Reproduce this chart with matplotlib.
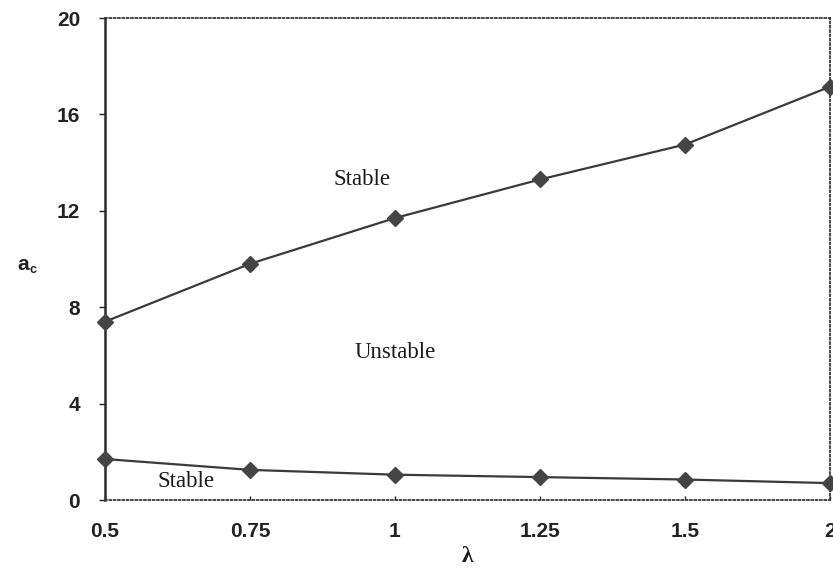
import matplotlib
matplotlib.use("Agg")
from matplotlib import pyplot as plt
import numpy as np

# lambda values (drawn as evenly spaced categories)
lam_labels = ['0.5', '0.75', '1', '1.25', '1.5', '2']
# critical a_c : upper and lower stability boundaries
ac_upper = [7.4, 9.8, 11.7, 13.3, 14.75, 17.15]
ac_lower = [1.7, 1.25, 1.05, 0.95, 0.85, 0.7]
y_ticks = [0, 4, 8, 12, 16, 20]

line_col = '#3a3a3a'
tick_font = {'family': 'Liberation Sans', 'weight': 'bold', 'size': 15}

fig = plt.figure(figsize=(8.33, 5.78), dpi=100)
W, H = 833, 578
ax = fig.add_axes([105 / W, 1 - 500 / H, (830 - 105) / W, (500 - 18) / H])

x = np.arange(len(lam_labels))
for vals in (ac_upper, ac_lower):
    ax.plot(x, vals, color=line_col, lw=1.6, marker='D', ms=8,
            mfc='#444444', mec='#444444', clip_on=False, zorder=3)

ax.set_xlim(0, len(lam_labels) - 1)
ax.set_ylim(0, 20)
ax.set_xticks(x)
ax.set_xticklabels(lam_labels, fontdict=tick_font)
ax.set_yticks(y_ticks)
ax.set_yticklabels([str(t) for t in y_ticks], fontdict=tick_font)
ax.tick_params(axis='y', direction='out', length=4, width=1, pad=14, colors='#222222')
ax.tick_params(axis='x', direction='in', length=3, width=1, pad=16, colors='#222222')

# left axis solid, the rest of the frame dotted
ax.spines['left'].set_linewidth(1.8)
ax.spines['left'].set_color('#2a2a2a')
for s in ('top', 'right', 'bottom'):
    ax.spines[s].set_linestyle((0, (1, 1.4)))
    ax.spines[s].set_linewidth(1.3)
    ax.spines[s].set_color('#3a3a3a')

# region labels
txt = {'family': 'Liberation Serif', 'size': 16.5, 'color': '#1a1a1a'}
ax.text(1.77, 13.3, 'Stable', ha='center', va='center', **txt)
ax.text(2.0, 6.1, 'Unstable', ha='center', va='center', **txt)
ax.text(0.56, 0.75, 'Stable', ha='center', va='center', **txt)

# axis titles
fig.text(467 / W, 1 - 556 / H, 'λ', ha='center', va='center',
         family='Liberation Serif', weight='bold', size=17, color='#1a1a1a')
fig.text(17 / W, 1 - 270 / H, 'a', ha='left', va='baseline',
         family='Liberation Sans', weight='bold', size=15, color='#222222')
fig.text(29 / W, 1 - 273 / H, 'c', ha='left', va='baseline',
         family='Liberation Sans', weight='bold', size=9, color='#222222')

fig.savefig('out.png', dpi=100, facecolor='white')
